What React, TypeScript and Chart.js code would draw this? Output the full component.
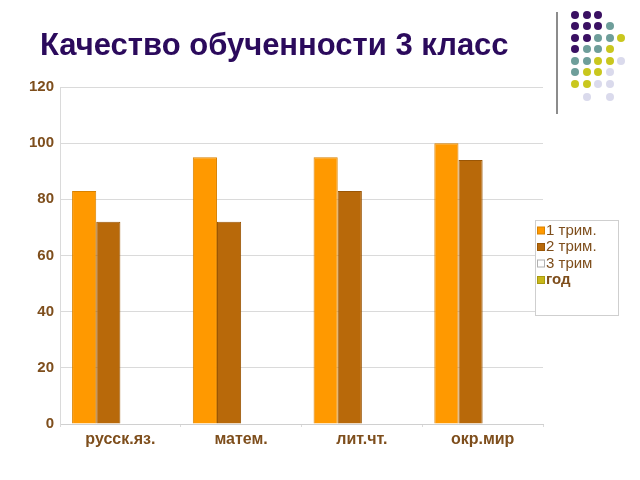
import React, { useEffect, useRef } from "react";
import { Chart, registerables } from "chart.js";

Chart.register(...registerables);

const TITLE = "Качество обученности 3 класс";
const categories = ["русск.яз.", "матем.", "лит.чт.", "окр.мир"];
const seriesNames = ["1 трим.", "2 трим.", "3 трим", "год"];
const trim1 = [83, 95, 95, 100];
const trim2 = [72, 72, 83, 94];
const trim3: (number | null)[] = [null, null, null, null];
const year: (number | null)[] = [null, null, null, null];
const yTicks = [0, 20, 40, 60, 80, 100, 120];

const fills = ["#FF9900", "#B8690A", "#FFFFFF", "#C9B81A"];
const borders = ["#D98200", "#9A5606", "#B0B0B0", "#A89A10"];
const BROWN = "#7E4E1C";
const FONT = "'Liberation Sans', Arial, sans-serif";

// decorative dot pattern (top right)
const dotRows: string[] = [
  "PPP..",
  "PPPT.",
  "PPTTY",
  "PTTY.",
  "TTYYL",
  "TYYL.",
  "YYLL.",
  ".L.L.",
];
const dotColors: Record<string, string> = {
  P: "#3A1062",
  T: "#6E9E9A",
  Y: "#C9C71E",
  L: "#DADAEC",
};
const dotX = [575, 586.5, 598, 609.5, 621];
const dotY = [15, 26, 37.5, 49, 60.5, 72, 83.5, 96.5];

const legendPlugin = {
  id: "boxLegend",
  afterDraw(chart: any) {
    const ctx = chart.ctx;
    ctx.save();
    ctx.strokeStyle = "#CFCFCF";
    ctx.lineWidth = 1;
    ctx.fillStyle = "#FFFFFF";
    ctx.fillRect(535.5, 220.5, 83, 95);
    ctx.strokeRect(535.5, 220.5, 83, 95);
    chart.data.datasets.forEach((ds: any, i: number) => {
      const cy = 230.5 + i * 16.5;
      ctx.fillStyle = ds.backgroundColor;
      ctx.fillRect(537.5, cy - 3.5, 7, 7);
      ctx.strokeStyle = ds.borderColor;
      ctx.strokeRect(537.5, cy - 3.5, 7, 7);
      ctx.fillStyle = BROWN;
      ctx.font = (i === 3 ? "bold " : "") + "15px " + FONT;
      ctx.textBaseline = "middle";
      ctx.textAlign = "left";
      ctx.fillText(ds.label, 546, cy);
    });
    ctx.restore();
  },
};

export default function App() {
  const ref = useRef<HTMLCanvasElement>(null);
  useEffect(() => {
    const series = [trim1, trim2, trim3, year];
    const chart = new Chart(ref.current!, {
      type: "bar",
      data: {
        labels: categories,
        datasets: series.map((d, i) => ({
          label: seriesNames[i],
          data: d,
          backgroundColor: fills[i],
          borderColor: borders[i],
          borderWidth: 1,
          categoryPercentage: 0.8,
          barPercentage: 1,
        })),
      },
      options: {
        animation: false,
        responsive: false,
        maintainAspectRatio: false,
        layout: { padding: { left: 0, top: 87, right: 97, bottom: 0 } },
        plugins: { legend: { display: false }, tooltip: { enabled: false } },
        scales: {
          x: {
            grid: {
              display: true,
              drawOnChartArea: false,
              drawTicks: true,
              tickLength: 3,
              color: "#DADADA",
            },
            border: { display: true, color: "#D0D0D0" },
            ticks: {
              color: BROWN,
              font: { family: FONT, size: 16, weight: "bold" },
              padding: 3,
            },
            afterFit(scale: any) {
              scale.height = 56;
            },
          },
          y: {
            min: 0,
            max: 120,
            afterBuildTicks(scale: any) {
              scale.ticks = yTicks.map((v) => ({ value: v }));
            },
            grid: { color: "#DADADA", drawTicks: false },
            border: { display: true, color: "#DADADA" },
            ticks: {
              color: BROWN,
              font: { family: FONT, size: 15, weight: "bold" },
              padding: 6,
            },
            afterFit(scale: any) {
              scale.width = 60;
            },
          },
        },
      },
      plugins: [legendPlugin],
    });
    return () => chart.destroy();
  }, []);

  return (
    <div
      style={{
        position: "fixed",
        left: 0,
        top: 0,
        width: 640,
        height: 480,
        background: "#FFFFFF",
        overflow: "hidden",
      }}
    >
      <canvas
        ref={ref}
        width={640}
        height={480}
        style={{ position: "absolute", left: 0, top: 0, width: 640, height: 480 }}
      />
      <div
        style={{
          position: "absolute",
          left: 40,
          top: 30,
          fontFamily: FONT,
          fontWeight: "bold",
          fontSize: 31,
          lineHeight: "30px",
          color: "#2B0A5C",
          whiteSpace: "nowrap",
        }}
      >
        {TITLE}
      </div>
      <div
        style={{
          position: "absolute",
          left: 556,
          top: 12,
          width: 1.5,
          height: 102,
          background: "#8C8C8C",
        }}
      />
      {dotRows.map((row, r) =>
        row.split("").map((c, k) =>
          c === "." ? null : (
            <div
              key={r + "-" + k}
              style={{
                position: "absolute",
                left: dotX[k] - 4,
                top: dotY[r] - 4,
                width: 8,
                height: 8,
                borderRadius: "50%",
                background: dotColors[c],
              }}
            />
          )
        )
      )}
    </div>
  );
}
